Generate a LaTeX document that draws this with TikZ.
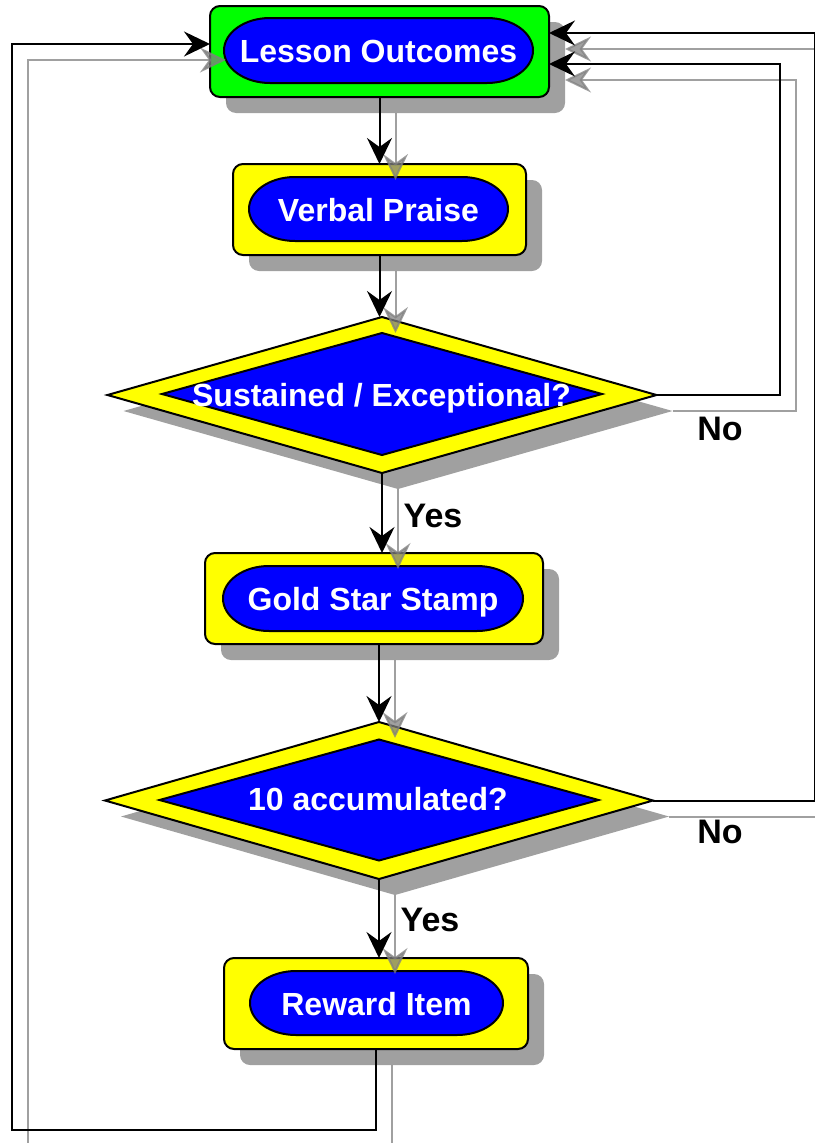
\documentclass[tikz,border=0pt]{standalone}
\usepackage{fontspec}
\setmainfont{Liberation Sans}
\usetikzlibrary{arrows.meta,shapes.geometric,shadows}
\definecolor{shgray}{RGB}{160,160,160}
\definecolor{boxyellow}{RGB}{255,255,0}
\definecolor{boxgreen}{RGB}{0,255,0}
\definecolor{pillblue}{RGB}{0,0,255}
\definecolor{lgray}{RGB}{128,128,128}
\tikzset{
  myshadow/.style={drop shadow={shadow xshift=16pt, shadow yshift=-16pt, fill=shgray, opacity=1, draw=none}},
  outerbox/.style={rectangle, rounded corners=10pt, draw=black, line width=2pt, inner sep=0pt, outer sep=0pt, myshadow},
  decision/.style={diamond, draw=black, line width=2pt, fill=boxyellow, inner sep=0pt, outer sep=0pt, myshadow},
  innerdia/.style={diamond, draw=black, line width=2pt, fill=pillblue, inner sep=0pt, outer sep=0pt},
  pillst/.style={draw=black, line width=2pt, fill=pillblue},
  lbl/.style={text=white, font=\bfseries\fontsize{32}{36}\selectfont, inner sep=0pt, text height=24pt, text depth=0pt},
  ynlabel/.style={text=black, font=\bfseries\fontsize{34}{40}\selectfont, inner sep=0pt, anchor=base},
  tipst/.style={-{Stealth[length=26pt,width=25pt,inset=9pt]}},
  conn/.style={draw=black, line width=2pt, tipst},
  sconn/.style={draw=lgray, opacity=0.75, line width=2pt, tipst}
}
\newcommand\pillshape[4]{%
  \pgfmathsetmacro\pillLx{#1-#3/2}%
  \pgfmathsetmacro\pillRx{#1+#3/2}%
  \pgfmathsetmacro\pillTy{#2-#4/2}%
  \pgfmathsetmacro\pillBy{#2+#4/2}%
  \pgfmathsetmacro\pillry{#4/2}%
  \filldraw[pillst] (\pillLx+46,\pillTy) -- (\pillRx-46,\pillTy)
    arc[start angle=-90,end angle=90,x radius=46,y radius=\pillry]
    -- (\pillLx+46,\pillBy)
    arc[start angle=90,end angle=270,x radius=46,y radius=\pillry] -- cycle;}
\begin{document}
\begin{tikzpicture}[x=1pt,y=-1pt]
\useasboundingbox (0,0) rectangle (814,1143);
% nodes
\node[outerbox, fill=boxgreen, minimum width=339pt, minimum height=91pt] (lo) at (379.5,51.5) {};
\pillshape{378.5}{50.5}{309}{65}
\node[lbl] (lo-t) at (378.5,50.5) {Lesson Outcomes};

\node[outerbox, fill=boxyellow, minimum width=293pt, minimum height=91pt] (vp) at (379.5,209.5) {};
\pillshape{378.5}{209}{259}{64}
\node[lbl] (vp-t) at (378.5,209) {Verbal Praise};

\node[decision, minimum width=549pt, minimum height=156pt] (d1) at (382,395) {};
\node[innerdia, minimum width=440pt, minimum height=122pt] (d1-in) at (382,394) {};
\node[lbl] (d1-t) at (381.5,394) {Sustained / Exceptional?};

\node[outerbox, fill=boxyellow, minimum width=338pt, minimum height=91pt] (gs) at (374,598.5) {};
\pillshape{373}{598.5}{300}{65}
\node[lbl] (gs-t) at (373,598.5) {Gold Star Stamp};

\node[decision, minimum width=548pt, minimum height=157pt] (d2) at (379,800.5) {};
\node[innerdia, minimum width=439pt, minimum height=121pt] (d2-in) at (379,800) {};
\node[lbl] (d2-t) at (378,798) {10 accumulated?};

\node[outerbox, fill=boxyellow, minimum width=304pt, minimum height=91pt] (ri) at (376,1003.5) {};
\pillshape{376.5}{1003}{253}{64}
\node[lbl] (ri-t) at (376.5,1003) {Reward Item};

% helper coordinates
\coordinate (vpd1) at (vp.south |- d1.north);
\coordinate (d1gs) at (d1.south |- gs.north);
\coordinate (gsd2) at (d2.north |- gs.south);
\coordinate (d2ri) at (d2.south |- ri.north);
\coordinate (r1) at (780,64);
\coordinate (e1) at (r1 -| lo.east);
\coordinate (r2) at (815,33);
\coordinate (e2) at (r2 -| lo.east);
\coordinate (b1) at (12,1130);
\coordinate (t1) at (12,44);
\coordinate (w1) at (t1 -| lo.west);

% shadow connectors
\draw[sconn] ([shift={(16,16)}]lo.south) -- ([shift={(16,16)}]vp.north);
\draw[sconn] ([shift={(16,16)}]vp.south) -- ([shift={(16,16)}]vpd1);
\draw[sconn] ([shift={(16,16)}]d1.south) -- ([shift={(16,16)}]d1gs);
\draw[sconn] ([shift={(16,16)}]gsd2) -- ([shift={(16,16)}]d2.north);
\draw[sconn] ([shift={(16,16)}]d2.south) -- ([shift={(16,16)}]d2ri);
\draw[sconn] ([shift={(16,16)}]d1.east) -| ([shift={(16,16)}]r1) -- ([shift={(16,16)}]e1);
\draw[sconn] ([shift={(16,16)}]d2.east) -| ([shift={(16,16)}]r2) -- ([shift={(16,16)}]e2);
\draw[sconn] ([shift={(16,16)}]ri.south) |- ([shift={(16,16)}]b1) -- ([shift={(16,16)}]t1) -- ([shift={(16,16)}]w1);

% connectors
\draw[conn] (lo.south) -- (vp.north);
\draw[conn] (vp.south) -- (vpd1);
\draw[conn] (d1.south) -- (d1gs);
\draw[conn] (gsd2) -- (d2.north);
\draw[conn] (d2.south) -- (d2ri);
\draw[conn] (d1.east) -| (r1) -- (e1);
\draw[conn] (d2.east) -| (r2) -- (e2);
\draw[conn] (ri.south) |- (b1) -- (t1) -- (w1);

% labels
\node[ynlabel] (no1) at (720,440) {No};
\node[ynlabel] (no2) at (720,843) {No};
\node[ynlabel] (yes1) at (433,527) {Yes};
\node[ynlabel] (yes2) at (430,931) {Yes};
\end{tikzpicture}
\end{document}
